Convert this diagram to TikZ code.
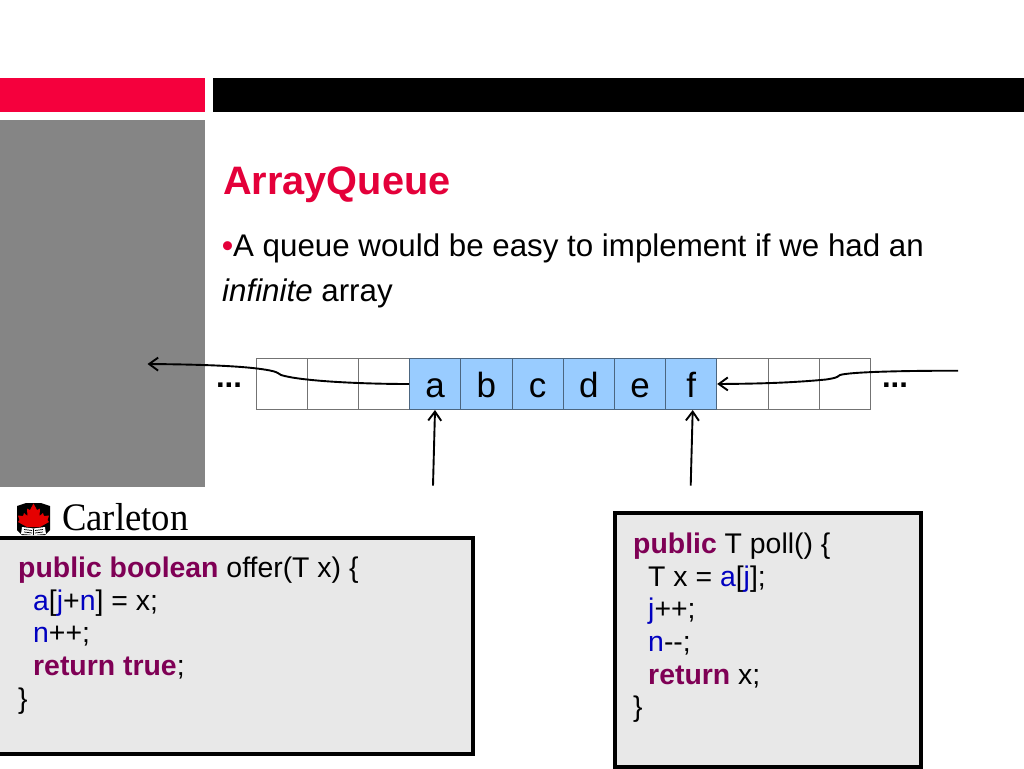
\documentclass[tikz,border=0pt]{standalone}
\usepackage{fontspec}
\setmainfont{Liberation Sans}
\newfontfamily\logofont{Liberation Serif}
\usetikzlibrary{arrows.meta}
\definecolor{slidered}{HTML}{F5003D}
\definecolor{titlered}{HTML}{E4003A}
\definecolor{sidegray}{HTML}{858585}
\definecolor{cellblue}{HTML}{99CCFF}
\definecolor{codegray}{HTML}{E8E8E8}
\definecolor{kw}{HTML}{7F0055}
\definecolor{fld}{HTML}{0000C0}
\newcommand{\kwd}[1]{\textcolor{kw}{\textbf{#1}}}
\newcommand{\fd}[1]{\textcolor{fld}{#1}}
\begin{document}
\begin{tikzpicture}[x=1pt,y=-1pt]
\tikzstyle{cellbox}=[draw=black!55,line width=0.8pt,minimum size=51.2pt,inner sep=0pt,text height=26.6pt,text depth=0pt,font=\fontsize{35}{35}\selectfont]
\tikzstyle{fullcell}=[cellbox,fill=cellblue,draw=black!50!cellblue]
\tikzstyle{band}=[inner sep=0pt,anchor=north west]
\tikzstyle{codebox}=[draw=black,line width=4pt,fill=codegray,inner sep=0pt,anchor=north west]
\tikzstyle{codetext}=[inner sep=0pt,anchor=north west,align=left,font=\fontsize{28.4}{32.6}\selectfont]
\tikzstyle{pointer}=[-{Straight Barb[length=9pt,width=13pt,line width=1.9pt]},line width=1.9pt]
\useasboundingbox (0,0) rectangle (1024,768);
\fill[white] (0,0) rectangle (1024,768);
% bands
\node[band,fill=slidered,minimum width=205pt,minimum height=34pt] at (0,78) (redbar) {};
\node[band,fill=black,minimum width=811pt,minimum height=34pt] at (213,78) (blackbar) {};
\node[band,fill=sidegray,minimum width=205pt,minimum height=367pt] at (0,120) (side) {};
% title
\node[inner sep=0pt,anchor=base west,text=titlered,font=\fontsize{39.7}{39.7}\selectfont\bfseries] at (223,194) (title) {ArrayQueue};
\node[inner sep=0pt,anchor=base west,font=\fontsize{31.3}{31.3}\selectfont] at (222,256) (line1) {\textcolor{titlered}{\textbf{•}}A queue would be easy to implement if we had an};
\node[inner sep=0pt,anchor=base west,font=\fontsize{31.3}{31.3}\selectfont] at (222,301) (line2) {\textit{infinite} array};
% cells
\foreach \n/\x in {0/281.6,1/332.8,2/384,9/742.4,10/793.6,11/844.8}
  \node[cellbox] at (\x,384) (c\n) {};
\foreach \n/\x/\t in {3/435.2/a,4/486.4/b,5/537.6/c,6/588.8/d,7/640/e,8/691.2/f}
  \node[fullcell] at (\x,384) (c\n) {\t};
\node[inner sep=0pt,anchor=base,font=\fontsize{31}{31}\selectfont\bfseries] at (229,387) (dotsl) {...};
\node[inner sep=0pt,anchor=base,font=\fontsize{31}{31}\selectfont\bfseries] at (895,387) (dotsr) {...};
% pointers
\coordinate (headend) at (147.5,364);
\coordinate (tailend) at (958,370.7);
\coordinate (headfoot) at (433,485.7);
\coordinate (tailfoot) at (690.7,485.7);
\draw[pointer] (c3.west) .. controls (360,384) and (300,381) .. (281,375)
   .. controls (277,372.5) and (277,372) .. (270,370.5)
   .. controls (250,366.5) and (210,364.5) .. (headend);
\draw[pointer] (tailend) .. controls (900,370.7) and (850,372) .. (840,375)
   .. controls (836,378) and (835,378) .. (826,379.5)
   .. controls (800,382) and (770,383.7) .. (c8.east);
\draw[pointer] (headfoot) -- (435,410);
\draw[pointer] (tailfoot) -- (692.7,410);
% logo
\node[inner sep=0pt,anchor=base west,transform shape,xscale=.94,font=\fontsize{39}{39}\selectfont\logofont] at (62,530) (logo) {Carleton};
\fill[black] (17,506) -- (26,503) -- (41,503) -- (50,506) -- (50,530) -- (45,535) -- (22,535) -- (17,530) -- cycle;
\fill[red!90!black] (33.5,503.5) -- (37,510) -- (40,508.5) -- (39.5,516) -- (43,513) -- (44,516) -- (49,515.5) -- (47.5,520) -- (49,522) -- (40,527) -- (27,527) -- (18,522) -- (19.5,520) -- (18,515.5) -- (23,516) -- (24,513) -- (27.5,516) -- (27,508.5) -- (30,510) -- cycle;
\fill[white] (22,527) -- (33.5,528.5) -- (45,527) -- (46,534) -- (34,535) -- (21,534) -- cycle;
\draw[black,line width=0.7pt] (24,529.5) -- (32,530.5) (24,532) -- (32,533) (43,529.5) -- (35,530.5) (43,532) -- (35,533) (33.5,528.5) -- (33.5,535);
% code
\node[codebox,minimum width=474.6pt,minimum height=215.6pt] at (-4,536) (offerbox) {};
\node[codebox,minimum width=306pt,minimum height=254pt] at (612.7,511) (pollbox) {};
\node[codetext] at (18,557) (offercode) {\kwd{public boolean} offer(T x) \{\\
\hspace*{15pt}\fd{a}[\fd{j}+\fd{n}] = x;\\
\hspace*{15pt}\fd{n}++;\\
\hspace*{15pt}\kwd{return true};\\
\}};
\node[codetext] at (633,533) (pollcode) {\kwd{public} T poll() \{\\
\hspace*{15pt}T x = \fd{a}[\fd{j}];\\
\hspace*{15pt}\fd{j}++;\\
\hspace*{15pt}\fd{n}-{}-;\\
\hspace*{15pt}\kwd{return} x;\\
\}};
\end{tikzpicture}
\end{document}
